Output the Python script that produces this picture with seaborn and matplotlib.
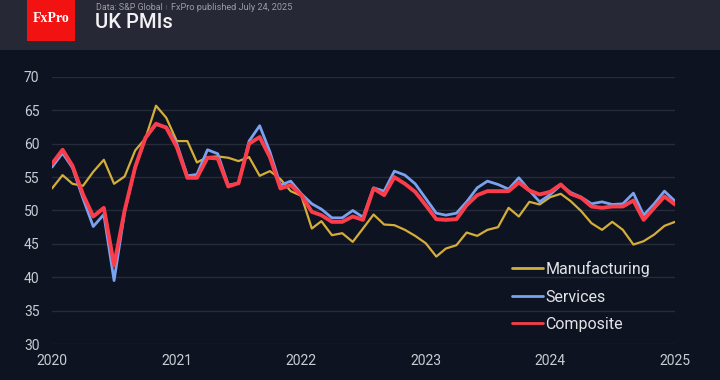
import pandas as pd
import numpy as np
import matplotlib
matplotlib.use("Agg")
import matplotlib.pyplot as plt
from matplotlib.patches import Rectangle
import seaborn as sns

# === DATA (monthly, Jan 2020 - Jan 2025) ===
months = pd.date_range("2020-01-01", periods=61, freq="MS")

manufacturing = [53.3, 55.3, 54.0, 53.7, 55.8, 57.6, 54.0, 55.1, 59.0, 60.8, 65.7, 63.9,
                 60.4, 60.4, 57.2, 58.0, 58.1, 57.9, 57.4, 58.0, 55.2, 55.9, 54.7, 52.9,
                 52.2, 47.3, 48.4, 46.3, 46.6, 45.3, 47.3, 49.4, 47.9, 47.8, 47.1, 46.2,
                 45.1, 43.1, 44.3, 44.8, 46.7, 46.2, 47.1, 47.5, 50.4, 49.1, 51.3, 50.9,
                 52.0, 52.5, 51.4, 49.9, 48.1, 47.1, 48.3, 47.1, 44.9, 45.4, 46.4, 47.7,
                 48.3]
services = [56.5, 58.6, 56.4, 51.8, 47.6, 49.4, 39.5, 49.8, 56.5, 60.8, 62.9, 62.5,
            60.0, 55.2, 55.4, 59.1, 58.5, 53.8, 54.1, 60.4, 62.7, 58.8, 53.8, 54.4,
            52.5, 51.0, 50.2, 48.9, 48.9, 50.0, 49.0, 53.4, 52.9, 55.9, 55.3, 54.0,
            51.8, 49.6, 49.3, 49.6, 51.3, 53.4, 54.4, 53.9, 53.2, 54.9, 53.0, 51.3,
            52.4, 53.8, 52.7, 52.0, 51.0, 51.3, 50.9, 51.0, 52.6, 49.3, 51.0, 52.9,
            51.4]
composite = [57.0, 59.1, 56.7, 52.4, 49.1, 50.4, 41.8, 50.0, 56.5, 60.9, 63.0, 62.4,
             59.5, 54.9, 54.9, 57.9, 57.8, 53.6, 54.1, 60.0, 61.0, 58.0, 53.3, 53.8,
             52.3, 49.8, 49.3, 48.3, 48.3, 49.1, 48.6, 53.3, 52.3, 55.0, 54.0, 52.8,
             50.8, 48.7, 48.6, 48.7, 50.8, 52.3, 52.9, 52.9, 52.9, 54.2, 53.0, 52.4,
             52.8, 53.9, 52.5, 51.9, 50.6, 50.4, 50.6, 50.6, 51.5, 48.6, 50.4, 52.1,
             50.9]

series_names = ["Manufacturing", "Services", "Composite"]
series_colors = ["#d4ad3a", "#7aa2ee", "#fb3d4b"]
series_widths = [1.6, 2.0, 2.8]
year_ticks = ["2020", "2021", "2022", "2023", "2024", "2025"]
y_ticks = [30, 35, 40, 45, 50, 55, 60, 65, 70]

df = pd.DataFrame({"date": months, "Manufacturing": manufacturing,
                   "Services": services, "Composite": composite})

# === STYLE ===
BG = "#0d1320"
HEADER = "#262935"
TEXT = "#c9ccd3"
sns.set_style("dark", {"axes.facecolor": BG, "figure.facecolor": BG})
plt.rcParams["font.family"] = ["Roboto", "DejaVu Sans"]

fig = plt.figure(figsize=(7.2, 3.8), dpi=100)
ax = fig.add_axes([52 / 720, 1 - 344 / 380, 623 / 720, 267 / 380])
ax.set_facecolor(BG)

for name, color, lw in zip(series_names, series_colors, series_widths):
    sns.lineplot(data=df, x="date", y=name, ax=ax, color=color, linewidth=lw, label=name)

ax.set_xlim(pd.Timestamp("2020-01-01"), pd.Timestamp("2025-01-01"))
ax.set_ylim(30, 70)
ax.set_xticks([pd.Timestamp(f"{y}-01-01") for y in year_ticks])
ax.set_xticklabels(year_ticks)
ax.set_yticks(y_ticks)
ax.set_yticklabels([str(v) for v in y_ticks])
ax.set_xlabel("")
ax.set_ylabel("")
ax.tick_params(axis="both", length=0, colors=TEXT, labelsize=10)
ax.tick_params(axis="x", pad=7)
ax.tick_params(axis="y", pad=9)
ax.grid(axis="y", color="#252b38", linewidth=1.0)
ax.grid(axis="x", visible=False)
for s in ax.spines.values():
    s.set_visible(False)

leg = ax.legend(loc="center left", bbox_to_anchor=(512 / 720, 1 - 296.5 / 380),
                bbox_transform=fig.transFigure, frameon=False, fontsize=11.5,
                handlelength=1.95, handletextpad=0.15, labelspacing=0.78,
                borderpad=0, borderaxespad=0)
for t in leg.get_texts():
    t.set_color("#e2e3e7")
for h in leg.get_lines():
    h.set_linewidth(2.0)

# === HEADER ===
fig.patches.append(Rectangle((0, 1 - 50 / 380), 1, 50 / 380, transform=fig.transFigure,
                             facecolor=HEADER, edgecolor="none", zorder=0))
fig.patches.append(Rectangle((27 / 720, 1 - 41 / 380), 48 / 720, 41 / 380,
                             transform=fig.transFigure, facecolor="#f21212",
                             edgecolor="none", zorder=1))
fig.text(51 / 720, 1 - 18 / 380, "FxPro", family="Liberation Serif", fontsize=10,
         weight="bold", color="white", ha="center", va="center")
fig.text(96 / 720, 1 - 7 / 380, "Data: S&P Global", fontsize=6.4,
         color="#9a9ca5", ha="left", va="center")
fig.text(166 / 720, 1 - 7 / 380, "|", fontsize=4.5, color="#6a6c75", ha="center", va="center")
fig.text(171 / 720, 1 - 7 / 380, "FxPro published July 24, 2025", fontsize=6.6,
         color="#9a9ca5", ha="left", va="center")
fig.text(95 / 720, 1 - 23 / 380, "UK PMIs", fontsize=14.5, weight="medium",
         color="#f2f2f4", ha="left", va="center")

fig.savefig("out.png", dpi=100, facecolor=BG)
